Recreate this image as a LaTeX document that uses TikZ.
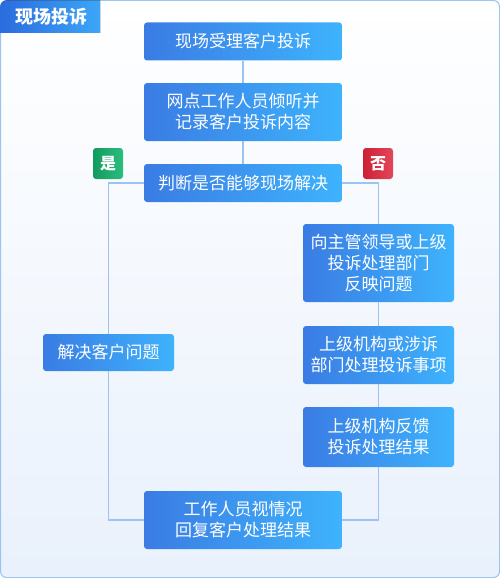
\documentclass[tikz,border=0pt]{standalone}
\usepackage{fontspec}
\setmainfont{Noto Sans CJK SC}
\usetikzlibrary{positioning}

\definecolor{boxl}{HTML}{3A7CE4}
\definecolor{boxr}{HTML}{3EB3FC}
\definecolor{tabl}{HTML}{2B6CDE}
\definecolor{tabr}{HTML}{3CA6F8}
\definecolor{linec}{HTML}{9DC3F3}
\definecolor{bgtop}{HTML}{FFFFFF}
\definecolor{bgbot}{HTML}{E9F1FC}
\definecolor{yesl}{HTML}{139A5E}
\definecolor{yesr}{HTML}{2BBE7E}
\definecolor{nol}{HTML}{CC1F35}
\definecolor{nor}{HTML}{E3475A}

\tikzset{
	stepbox/.style={rounded corners=3pt, left color=boxl, right color=boxr, text=white, align=center, inner sep=0pt, font=\fontsize{17}{21}\selectfont},
	badge/.style={rounded corners=3pt, text=white, minimum width=30pt, minimum height=31pt, inner sep=0pt, font=\fontsize{16}{16}\selectfont\bfseries},
	flow/.style={draw=linec, line width=1.1pt},
}

\begin{document}
\begin{tikzpicture}[x=1pt, y=-1pt]
		\useasboundingbox (0,0) rectangle (500,578);

		% Frame
		\begin{scope}
			\draw[draw=linec, line width=1pt, rounded corners=6pt, top color=bgtop, bottom color=bgbot] (0.5,0.5) rectangle (499.5,577.5);
			\fill[left color=tabl, right color=tabr] (0.5,33) [rounded corners=6pt] -- (0.5,0.5) [sharp corners] -- (100,0.5) -- (100,33) -- cycle;
			\node (title) at (51,17) [text=white, font=\fontsize{18}{18}\selectfont\bfseries] {现场投诉};
		\end{scope}

		% Main column
		\begin{scope}
			\node (accept) at (243,41.5) [stepbox, minimum width=198pt, minimum height=38pt] {现场受理客户投诉};
			\node (listen) at (243,112) [stepbox, minimum width=198pt, minimum height=58pt] {网点工作人员倾听并\\记录客户投诉内容};
			\node (judge) at (243,183) [stepbox, minimum width=198pt, minimum height=38pt] {判断是否能够现场解决};
			\node (reply) at (243,520) [stepbox, minimum width=198pt, minimum height=58pt] {工作人员视情况\\回复客户处理结果};
		\end{scope}

		% Yes branch
		\begin{scope}
			\node (yes) at (108,163.5) [badge, left color=yesl, right color=yesr] {是};
			\node (solve) at (108.5,352.5) [stepbox, minimum width=131pt, minimum height=37pt] {解决客户问题};
		\end{scope}

		% No branch
		\begin{scope}
			\node (no) at (378,163.5) [badge, left color=nol, right color=nor] {否};
			\node (report) at (378.5,263) [stepbox, minimum width=151pt, minimum height=78pt] {向主管领导或上级\\投诉处理部门\\反映问题};
			\node (handle) at (378.5,355) [stepbox, minimum width=151pt, minimum height=58pt] {上级机构或涉诉\\部门处理投诉事项};
			\node (feedback) at (378.5,437) [stepbox, minimum width=151pt, minimum height=60pt] {上级机构反馈\\投诉处理结果};
		\end{scope}

		% Connectors
		\begin{scope}
			\draw[flow] (accept) -- (listen);
			\draw[flow] (listen) -- (judge);
			\draw[flow] (judge.west) -| (solve.north);
			\draw[flow] (solve.south) |- (reply.west);
			\draw[flow] (judge.east) -| (report.north);
			\draw[flow] (report) -- (handle);
			\draw[flow] (handle) -- (feedback);
			\draw[flow] (feedback.south) |- (reply.east);
		\end{scope}

	\end{tikzpicture}
\end{document}
